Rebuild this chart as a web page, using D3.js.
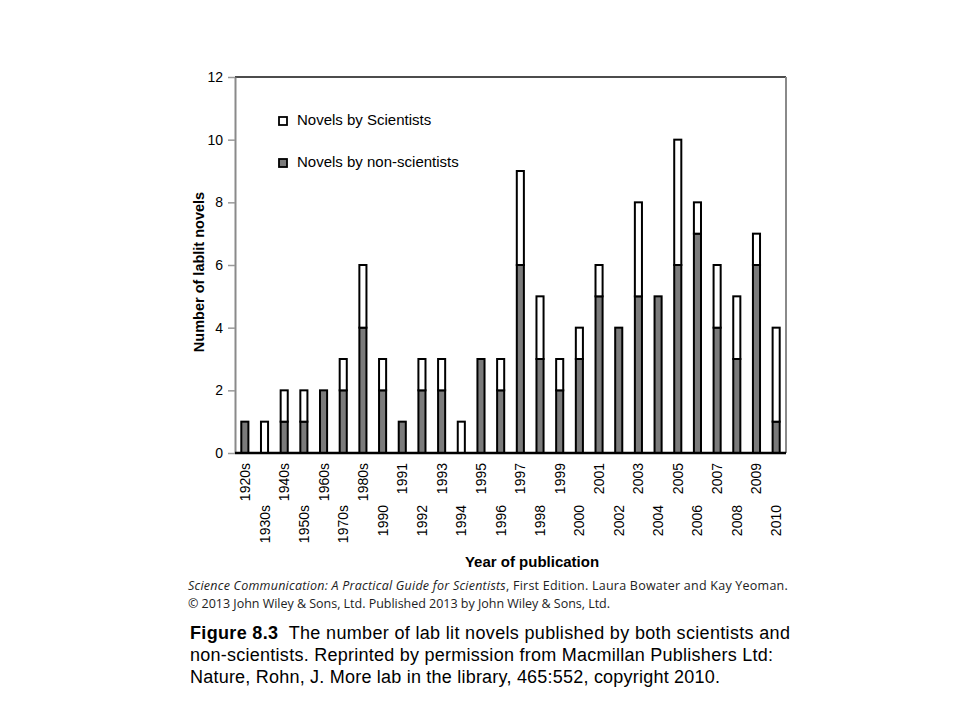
<!DOCTYPE html>
<html>
<head>
<meta charset="utf-8">
<script src="https://cdn.jsdelivr.net/npm/d3@7"></script>
<style>
  body { margin: 0; background: #fff; }
  svg { display: block; }
  text { font-family: "Liberation Sans", Arial, sans-serif; fill: #000; }
  .caption-book { font-family: "Open Sans", "Liberation Sans", sans-serif; fill: #222; }
</style>
</head>
<body>
<svg id="chart" width="960" height="720"></svg>
<script>
// categories along the x axis
const years = ["1920s", "1930s", "1940s", "1950s", "1960s", "1970s", "1980s",
  "1990", "1991", "1992", "1993", "1994", "1995", "1996", "1997", "1998", "1999",
  "2000", "2001", "2002", "2003", "2004", "2005", "2006", "2007", "2008", "2009", "2010"];

// novels by non-scientists (dark, bottom segment)
const nonScientists = [1, 0, 1, 1, 2, 2, 4, 2, 1, 2, 2, 0, 3, 2, 6, 3, 2, 3, 5, 4, 5, 5, 6, 7, 4, 3, 6, 1];

// novels by scientists (white, top segment)
const scientists = [0, 1, 1, 1, 0, 1, 2, 1, 0, 1, 1, 1, 0, 1, 3, 2, 1, 1, 1, 0, 3, 0, 4, 1, 2, 2, 1, 3];

const yTicks = [0, 2, 4, 6, 8, 10, 12];

const seriesKeys = ["non", "sci"];
const seriesNames = { sci: "Novels by Scientists", non: "Novels by non-scientists" };
const fills = { non: "#7b7b7b", sci: "#ffffff" };

// build the table for d3.stack
let table = years.map((y, i) => ({ year: y, non: nonScientists[i], sci: scientists[i] }));

const margin = { top: 77, right: 174, bottom: 267, left: 235 };
let svg = d3.select("#chart");
let width = +svg.attr("width");
let height = +svg.attr("height");
let plotWidth = width - margin.left - margin.right;
let plotHeight = height - margin.top - margin.bottom;

let xScale = d3.scaleBand()
  .domain(years)
  .range([0, plotWidth])
  .paddingInner(0.64)
  .paddingOuter(0.32);

let yScale = d3.scaleLinear()
  .domain([0, 12])
  .range([plotHeight, 0]);

let plot = svg.append("g")
  .attr("transform", "translate(" + margin.left + "," + margin.top + ")");

// frame: top black, right grey
plot.append("line")
  .attr("x1", 0).attr("x2", plotWidth).attr("y1", 0).attr("y2", 0)
  .attr("stroke", "#111").attr("stroke-width", 1.5);
plot.append("line")
  .attr("x1", plotWidth).attr("x2", plotWidth).attr("y1", 0).attr("y2", plotHeight)
  .attr("stroke", "#8a8a8a").attr("stroke-width", 2);

// y axis (grey line, ticks outward)
let yAxis = plot.append("g")
  .call(d3.axisLeft(yScale).tickValues(yTicks).tickSize(7).tickPadding(5).tickSizeOuter(0));
yAxis.select(".domain").attr("stroke", "#8a8a8a").attr("stroke-width", 2);
yAxis.selectAll(".tick line").attr("stroke", "#9a9a9a").attr("stroke-width", 1.5);
yAxis.selectAll(".tick text")
  .attr("font-family", "Liberation Sans, Arial, sans-serif")
  .attr("font-size", 14)
  .attr("fill", "#000");

// stacked bars
let stacked = d3.stack().keys(seriesKeys)(table);

plot.selectAll("g.layer")
  .data(stacked)
  .enter()
  .append("g")
  .attr("class", "layer")
  .attr("fill", d => fills[d.key])
  .selectAll("rect")
  .data(d => d.filter(s => s[1] > s[0]))
  .enter()
  .append("rect")
  .attr("x", d => xScale(d.data.year))
  .attr("y", d => yScale(d[1]))
  .attr("width", xScale.bandwidth())
  .attr("height", d => yScale(d[0]) - yScale(d[1]))
  .attr("stroke", "#000")
  .attr("stroke-width", 2);

// x axis: black baseline, labels rotated and staggered
plot.append("line")
  .attr("x1", 0).attr("x2", plotWidth).attr("y1", plotHeight).attr("y2", plotHeight)
  .attr("stroke", "#000").attr("stroke-width", 2.5);

plot.selectAll("text.xlabel")
  .data(years)
  .enter()
  .append("text")
  .attr("class", "xlabel")
  .attr("font-size", 14)
  .attr("text-anchor", "end")
  .attr("dominant-baseline", "central")
  .attr("transform", (d, i) => {
    let cx = xScale(d) + xScale.bandwidth() / 2;
    let cy = plotHeight + (i % 2 === 0 ? 10 : 52);
    return "translate(" + cx + "," + cy + ") rotate(-90)";
  })
  .text(d => d);

// axis titles
svg.append("text")
  .attr("x", 532)
  .attr("y", 567)
  .attr("text-anchor", "middle")
  .attr("font-size", 15)
  .attr("font-weight", "bold")
  .text("Year of publication");

svg.append("text")
  .attr("transform", "translate(204,272) rotate(-90)")
  .attr("text-anchor", "middle")
  .attr("font-size", 14.5)
  .attr("font-weight", "bold")
  .text("Number of lablit novels");

// legend
const legendOrder = ["sci", "non"];
let legend = svg.append("g");
legendOrder.forEach((k, i) => {
  let ly = 125 + i * 42;
  legend.append("rect")
    .attr("x", 279).attr("y", ly - 8)
    .attr("width", 8).attr("height", 8)
    .attr("fill", fills[k])
    .attr("stroke", "#000").attr("stroke-width", 1.8);
  legend.append("text")
    .attr("x", 297).attr("y", ly)
    .attr("font-size", 15)
    .text(seriesNames[k]);
});

// fit a text element to a target width using letter spacing
let fitWidth = (sel, target) => {
  let node = sel.node();
  let natural = node.getComputedTextLength();
  let chars = node.textContent.length;
  if (chars > 1) sel.attr("letter-spacing", ((target - natural) / (chars - 1)).toFixed(3));
};

// book credit lines
let credit1 = svg.append("text")
  .attr("class", "caption-book")
  .attr("x", 188).attr("y", 590)
  .attr("font-size", 12.5);
credit1.append("tspan").attr("font-style", "italic").text("Science Communication: A Practical Guide for Scientists");
credit1.append("tspan").text(", First Edition.  Laura Bowater and Kay Yeoman.");
fitWidth(credit1, 600);

let credit2 = svg.append("text")
  .attr("class", "caption-book")
  .attr("x", 188).attr("y", 608)
  .attr("font-size", 12.5)
  .text("\u00A9 2013 John Wiley & Sons, Ltd.  Published 2013 by John Wiley & Sons, Ltd.");
fitWidth(credit2, 422);

// figure caption
const captionLines = [
  ["Figure 8.3", "  The number of lab lit novels published by both scientists and"],
  ["", "non-scientists. Reprinted by permission from Macmillan Publishers Ltd:"],
  ["", "Nature, Rohn, J. More lab in the library, 465:552, copyright 2010."]
];
const captionWidths = [600, 583, 530];

captionLines.forEach((parts, i) => {
  let t = svg.append("text")
    .attr("x", 190).attr("y", 639 + i * 22)
    .attr("font-size", 18)
    .attr("xml:space", "preserve")
    .style("white-space", "pre");
  if (parts[0]) t.append("tspan").attr("font-weight", "bold").text(parts[0]);
  t.append("tspan").text(parts[1]);
  fitWidth(t, captionWidths[i]);
});
</script>
</body>
</html>
